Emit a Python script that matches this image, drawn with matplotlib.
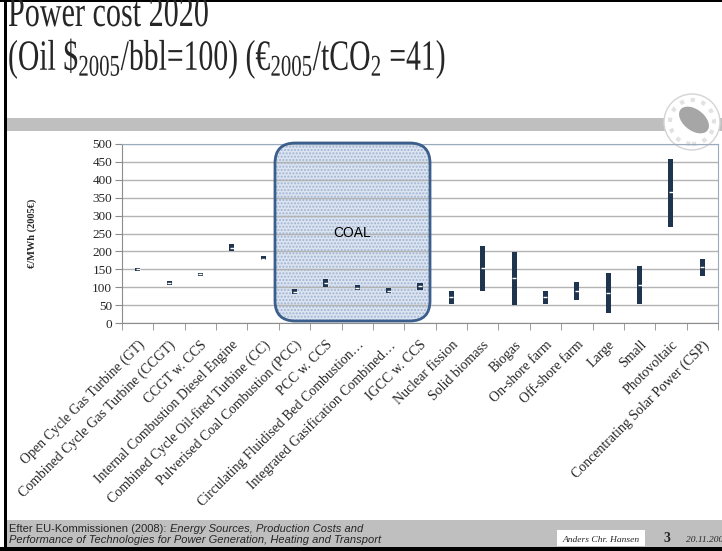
import numpy as np
import matplotlib.pyplot as plt
from matplotlib.patches import FancyBboxPatch, Rectangle, Ellipse
from matplotlib.patheffects import AbstractPathEffect
from matplotlib.transforms import Affine2D

# technologies and cost ranges (EUR/MWh, 2005 EUR)
technologies = ['Open Cycle Gas Turbine (GT)', 'Combined Cycle Gas Turbine (CCGT)', 'CCGT w. CCS',
                'Internal Combustion Diesel Engine', 'Combined Cycle Oil-fired Turbine (CC)',
                'Pulverised Coal Combustion (PCC)', 'PCC w. CCS', 'Circulating Fluidised Bed Combustion…',
                'Integrated Gasification Combined…', 'IGCC w. CCS', 'Nuclear fission', 'Solid biomass',
                'Biogas', 'On-shore farm', 'Off-shore farm', 'Large', 'Small', 'Photovoltaic',
                'Concentrating Solar Power (CSP)']
cost_low = [144, 106, 130, 200, 175, 80, 100, 93, 85, 93, 54, 88, 49, 54, 65, 29, 54, 269, 130]
cost_high = [154, 116, 141, 221, 186, 94, 124, 105, 97, 111, 90, 216, 199, 90, 115, 141, 160, 459, 180]
cost_mid = [150, 111, 136, 209, 180, 87, 113, 99, 90, 102, 72, 153, 125, 72, 90, 85, 107, 366, 156]
y_ticks = [0, 50, 100, 150, 200, 250, 300, 350, 400, 450, 500]

W, H = 722, 551
plt.rcParams['font.family'] = ['Liberation Serif', 'DejaVu Serif']
plt.rcParams['mathtext.fontset'] = 'custom'
plt.rcParams['mathtext.rm'] = 'Liberation Serif'
plt.rcParams['mathtext.it'] = 'Liberation Serif:italic'


class Condense(AbstractPathEffect):
    # squeeze glyphs horizontally (the slide title uses a narrow face)
    def __init__(self, sx):
        super().__init__()
        self.sx = sx

    def draw_path(self, renderer, gc, tpath, affine, rgbFace=None):
        x0 = affine.get_matrix()[0, 2]
        squash = Affine2D().translate(-x0, 0).scale(self.sx, 1).translate(x0, 0)
        renderer.draw_path(gc, tpath, affine + squash, rgbFace)


fig = plt.figure(figsize=(W / 100, H / 100), dpi=100)


def fx(px):
    return px / W


def fy(py):
    return 1 - py / H


# slide frame and bands
fig.add_artist(Rectangle((fx(6), fy(131)), fx(716), 13 / H, transform=fig.transFigure,
                         facecolor='#bfbfbf', edgecolor='none'))
fig.add_artist(Rectangle((fx(6), fy(547)), fx(716), 27 / H, transform=fig.transFigure,
                         facecolor='#bfbfbf', edgecolor='none'))
fig.add_artist(Rectangle((fx(0), fy(551)), 1, 4 / H, transform=fig.transFigure,
                         facecolor='black', edgecolor='none'))
fig.add_artist(Rectangle((fx(4), 0), 2.5 / W, 1, transform=fig.transFigure,
                         facecolor='black', edgecolor='none'))
fig.add_artist(Rectangle((0, fy(1.5)), 1, 1.5 / H, transform=fig.transFigure,
                         facecolor='black', edgecolor='none'))

# university seal (rough)
fig.add_artist(Ellipse((fx(692), fy(122)), 56 / W, 56 / H, transform=fig.transFigure,
                       facecolor='white', edgecolor='#d4d4d4', lw=1))
fig.add_artist(Ellipse((fx(692), fy(122)), 44 / W, 44 / H, transform=fig.transFigure,
                       facecolor='none', edgecolor='#e2e2e2', lw=3, ls=':'))
fig.add_artist(Ellipse((fx(694), fy(120)), 24 / W, 30 / H, angle=35, transform=fig.transFigure,
                       facecolor='#a6a6a6', edgecolor='none'))

# title
t1 = fig.text(fx(8), fy(26), 'Power cost 2020', fontsize=31, color='#262626', va='baseline')
t2 = fig.text(fx(8), fy(70), r'(Oil \$$_{2005}$/bbl=100) (€$_{2005}$/tCO$_2$ =41)', fontsize=31,
              color='#262626', va='baseline')
t1.set_path_effects([Condense(0.7)])
t2.set_path_effects([Condense(0.69)])

ax = fig.add_axes([fx(122), fy(323), fx(718) - fx(122), (323 - 144) / H])
ax.set_zorder(2)
x = np.arange(len(technologies))
ax.set_xlim(-0.5, len(technologies) - 0.5)
ax.set_ylim(0, 500)
ax.set_axisbelow(True)
ax.set_facecolor('none')
ax.yaxis.grid(True, color='#b3b3b3', lw=1, zorder=0.5)

# coal box
box_xy = (fx(275), fy(321))
box_w, box_h = fx(430) - fx(275), (321 - 143) / H
style = 'round,pad=0,rounding_size=0.028'
ax.add_patch(FancyBboxPatch(box_xy, box_w, box_h, boxstyle=style, mutation_aspect=W / H,
                            transform=fig.transFigure, facecolor='#dbe4f0', edgecolor='none',
                            zorder=0.3, clip_on=False))
ax.add_patch(FancyBboxPatch(box_xy, box_w, box_h, boxstyle=style, mutation_aspect=W / H,
                            transform=fig.transFigure, fill=False, hatch='.....',
                            edgecolor='#9fb4d2', lw=0, zorder=0.35, clip_on=False))
ax.add_patch(FancyBboxPatch(box_xy, box_w, box_h, boxstyle=style, mutation_aspect=W / H,
                            transform=fig.transFigure, fill=False, edgecolor='#3b5e8c',
                            lw=2, zorder=3, clip_on=False))
ax.text(6.83, 252, 'COAL', family='Liberation Sans', fontsize=10, ha='center', va='center',
        zorder=4)

# high-low bars with mid marker
low = np.array(cost_low)
high = np.array(cost_high)
ax.bar(x, high - low, bottom=low, width=0.16, color='#1f344f', zorder=2)
ax.plot(x, cost_mid, ls='none', marker='_', ms=2.2, mew=1, color='white', zorder=3)

ax.set_yticks(y_ticks)
ax.tick_params(axis='y', labelsize=9.5, length=5, color='#8c8c8c', pad=2, labelcolor='#262626')
ax.set_xticks(x)
ax.set_xticklabels(technologies, rotation=45, ha='right', rotation_mode='anchor', fontsize=10,
                   color='#262626')
ax.set_xticks(np.arange(-0.5, len(technologies)), minor=True)
ax.tick_params(axis='x', which='major', length=0, pad=11)
ax.tick_params(axis='x', which='minor', length=5, color='#8c8c8c')
for s in ['left', 'bottom']:
    ax.spines[s].set_color('#8c8c8c')
for s in ['top', 'right']:
    ax.spines[s].set_color('#9aaabf')
ax.set_ylabel('€/MWh (2005€)', fontsize=7.5, fontweight='bold', labelpad=40, color='#262626')

# footer
src = fig.text(fx(9), fy(532), 'Efter EU-Kommissionen (2008): ', family='Liberation Sans',
               fontsize=8, color='#262626', va='baseline')
ax.annotate('Energy Sources, Production Costs and', xy=(1, 0), xycoords=src, va='bottom',
            ha='left', family='Liberation Sans', style='italic', fontsize=8, color='#262626',
            annotation_clip=False)
fig.text(fx(9), fy(543), 'Performance of Technologies for Power Generation, Heating and Transport',
         family='Liberation Sans', style='italic', fontsize=8, color='#262626', va='baseline')
fig.add_artist(Rectangle((fx(557), fy(546)), 88 / W, 16 / H, transform=fig.transFigure,
                         facecolor='white', edgecolor='none'))
fig.text(fx(601), fy(542), 'Anders Chr. Hansen', style='italic', fontsize=6.8, color='#262626',
         ha='center', va='baseline')
fig.text(fx(663), fy(542), '3', fontweight='bold', fontsize=10, color='#262626', va='baseline')
fig.text(fx(686), fy(542), '20.11.2008', style='italic', fontsize=6.8, color='#262626',
         va='baseline')

fig.savefig('out.png', dpi=100)
